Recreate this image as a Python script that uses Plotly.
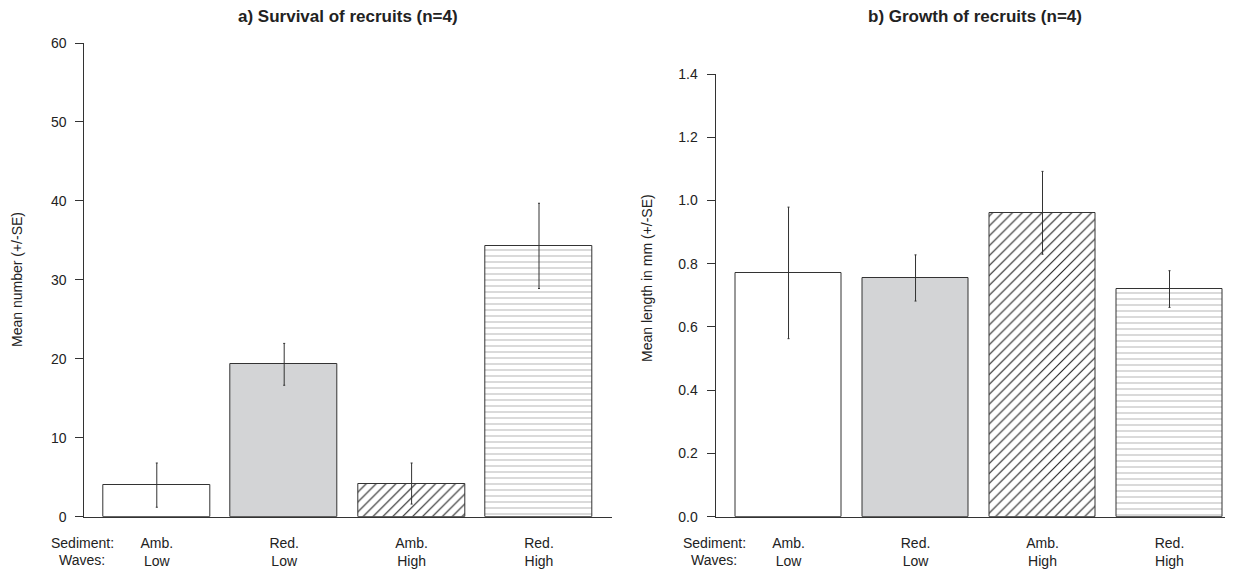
import plotly.graph_objects as go

# ---- data ----
sediment = ["Amb.", "Red.", "Amb.", "Red."]
waves = ["Low", "Low", "High", "High"]
survival_mean = [4.0, 19.3, 4.2, 34.3]
survival_se = [2.8, 2.65, 2.6, 5.4]
growth_mean = [0.771, 0.755, 0.961, 0.720]
growth_se = [0.208, 0.073, 0.131, 0.058]
survival_ticks = [0, 10, 20, 30, 40, 50, 60]
growth_ticks = [0.0, 0.2, 0.4, 0.6, 0.8, 1.0, 1.2, 1.4]
growth_ticktext = ["0.0", "0.2", "0.4", "0.6", "0.8", "1.0", "1.2", "1.4"]

# the page body has an 8px margin, so the figure is sized to the visible area
OFF = 8
W, H = 1233 - OFF, 569 - OFF
FONT = "Liberation Sans, Arial, sans-serif"
LINE = "#333333"
TXT = "#222222"

xs = list(range(len(sediment)))
ticktext = [f"{s}<br>{w}" for s, w in zip(sediment, waves)]

# per-bar fill styles
fills = ["white", "#d3d4d6", "white", "white"]
shapes = ["", "", "/", "-"]
fgcols = ["#333333", "#333333", "#222222", "#d6d6d6"]
psizes = [7, 7, 7, 6]
solids = [0.16, 0.16, 0.16, 0.3]

fig = go.Figure()
panels = [
    ("x", "y", survival_mean, survival_se),
    ("x2", "y2", growth_mean, growth_se),
]
for xa, ya, means, ses in panels:
    for i in xs:
        marker = dict(color=fills[i], line=dict(color=LINE, width=1))
        if shapes[i]:
            marker["pattern"] = dict(shape=shapes[i], fgcolor=fgcols[i], bgcolor=fills[i],
                                     size=psizes[i], solidity=solids[i], fillmode="replace")
        fig.add_trace(go.Bar(
            x=[xs[i]], y=[means[i]], width=0.84, marker=marker,
            error_y=dict(type="data", array=[ses[i]], color=LINE, thickness=1, width=1),
            xaxis=xa, yaxis=ya, showlegend=False, hoverinfo="skip",
        ))


def px(x):
    return (x - OFF) / W


def py(y):
    return 1 - (y - OFF) / H


common_x = dict(
    tickvals=xs, ticktext=ticktext, showgrid=False, zeroline=False,
    showline=True, linecolor=LINE, linewidth=1, ticks="", automargin=False,
    tickfont=dict(family=FONT, size=14, color=TXT), ticklabelstandoff=13,
)
common_y = dict(
    showgrid=False, zeroline=False, showline=True, linecolor=LINE, linewidth=1,
    ticks="outside", ticklen=8, tickcolor=LINE, tickwidth=1, automargin=False,
    tickfont=dict(family=FONT, size=14, color=TXT), ticklabelstandoff=6,
)

fig.update_layout(
    width=W, height=H,
    margin=dict(l=0, r=0, t=0, b=0, autoexpand=False),
    paper_bgcolor="white", plot_bgcolor="white",
    bargap=0, barmode="overlay",
    xaxis=dict(domain=[px(84.3), px(612)], range=[-0.569, 3.573], anchor="y", **common_x),
    yaxis=dict(domain=[py(516.7), py(43)], range=[0, 60], anchor="x",
               tickvals=survival_ticks, **common_y),
    xaxis2=dict(domain=[px(715.5), px(1233)], range=[-0.575, 3.5], anchor="y2", **common_x),
    yaxis2=dict(domain=[py(516.7), py(74)], range=[0, 1.4], anchor="x2",
                tickvals=growth_ticks, ticktext=growth_ticktext, **common_y),
)

ann = [
    dict(text="<b>a) Survival of recruits (n=4)</b>", x=px(348), y=py(17), size=17),
    dict(text="<b>b) Growth of recruits (n=4)</b>", x=px(975), y=py(17), size=17),
    dict(text="Sediment:", x=px(82), y=py(543), size=14),
    dict(text="Waves:", x=px(82), y=py(560), size=14),
    dict(text="Sediment:", x=px(714), y=py(543), size=14),
    dict(text="Waves:", x=px(714), y=py(560), size=14),
]
for a in ann:
    fig.add_annotation(
        text=a["text"], x=a["x"], y=a["y"], xref="paper", yref="paper",
        xanchor="center", yanchor="middle", showarrow=False,
        font=dict(family=FONT, size=a["size"], color=TXT),
    )
fig.add_annotation(text="Mean number (+/-SE)", x=px(17), y=py(280), xref="paper", yref="paper",
                   textangle=-90, showarrow=False, xanchor="center", yanchor="middle",
                   font=dict(family=FONT, size=14, color=TXT))
fig.add_annotation(text="Mean length in mm (+/-SE)", x=px(647), y=py(278), xref="paper", yref="paper",
                   textangle=-90, showarrow=False, xanchor="center", yanchor="middle",
                   font=dict(family=FONT, size=14, color=TXT))

fig.write_html("out.html")
